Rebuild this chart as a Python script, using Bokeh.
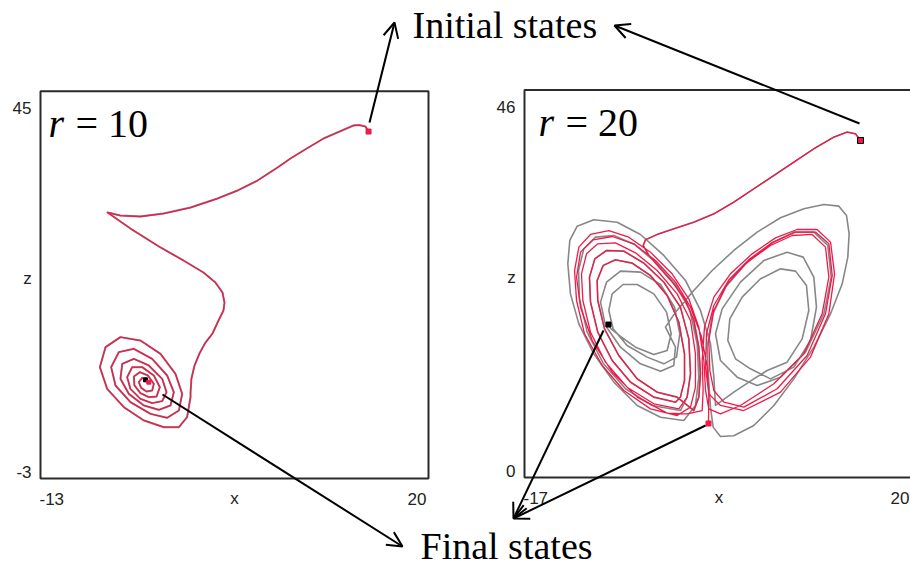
from bokeh.plotting import figure
from bokeh.models import Range1d, Arrow, OpenHead
from bokeh.core.properties import value
from bokeh.embed import file_html
from bokeh.resources import INLINE

# ---------------------------------------------------------------- data
# Lorenz trajectories projected on the x-z plane, (x, z) pairs.
# r = 10: the two runs stay together and spiral into the left fixed point.
r10_path = [
    (14.90, 40.00), (14.64, 40.62), (14.10, 40.80), (13.62, 40.75), (11.07, 39.14),
    (9.37, 37.65), (8.26, 36.66), (7.16, 35.54), (5.46, 33.93), (3.75, 32.69),
    (2.05, 31.70), (-0.24, 30.58), (-2.54, 29.84), (-4.50, 29.47), (-6.20, 29.59),
    (-7.30, 29.97), (-5.35, 27.98), (-2.79, 25.63), (-0.84, 24.02), (0.86, 22.53),
    (1.88, 21.29), (2.48, 20.05), (2.65, 18.81), (2.56, 17.82), (2.14, 16.58),
    (1.63, 14.97), (1.03, 13.85), (0.52, 12.49), (0.10, 11.00), (-0.16, 9.39),
    (-0.24, 7.66),
]
r10_spiral = [
    (-0.24, 7.08), (-0.53, 4.60), (-1.23, 3.36), (-2.51, 3.36), (-4.21, 4.19),
    (-5.91, 5.84), (-7.33, 8.11), (-7.95, 10.80), (-7.47, 13.28), (-6.20, 14.52),
    (-4.50, 14.10), (-2.79, 12.45), (-1.52, 9.97), (-0.95, 7.49),
    (-1.23, 5.43), (-2.23, 4.52), (-3.64, 5.01), (-5.35, 6.46), (-6.62, 8.53),
    (-6.99, 10.80), (-6.34, 12.66), (-5.06, 13.07), (-3.50, 11.83), (-2.23, 9.77),
    (-1.66, 7.70),
    (-1.94, 6.05), (-2.94, 5.51), (-4.21, 6.05), (-5.49, 7.49), (-6.20, 9.35),
    (-6.05, 11.21), (-5.06, 11.83), (-3.79, 11.01), (-2.65, 9.35), (-2.28, 7.70),
    (-2.65, 6.59), (-3.50, 6.34), (-4.50, 6.87), (-5.35, 8.11), (-5.63, 9.56),
    (-5.20, 10.80), (-4.35, 10.80), (-3.36, 9.77), (-2.85, 8.32),
    (-3.13, 7.16), (-3.79, 7.08), (-4.50, 7.58), (-5.01, 8.53), (-5.06, 9.64),
    (-4.55, 10.18), (-3.87, 9.77), (-3.36, 8.73),
    (-3.50, 7.91), (-3.99, 7.78), (-4.44, 8.24), (-4.64, 8.94), (-4.35, 9.48),
    (-3.93, 9.15),
]
r10_red_final = (-3.79, 8.94)
r10_gray_final = (-4.07, 9.23)

# r = 20: shared start, then the two runs separate.
r20_start = [
    (14.96, 40.01), (14.48, 40.80), (13.69, 41.00), (12.42, 40.40), (10.52, 39.02),
    (8.62, 37.44), (6.72, 35.85), (4.81, 34.27), (2.91, 32.69), (1.01, 31.30),
    (-0.89, 30.31), (-2.80, 29.52), (-4.38, 28.85), (-5.49, 28.22), (-5.71, 27.54),
    (-5.17, 26.36), (-4.06, 24.77), (-2.80, 22.99), (-1.69, 21.01), (-0.89, 18.64),
    (-0.42, 15.47), (-0.26, 12.31), (-0.42, 9.54), (-0.89, 7.95),
    (-2.48, 9.54), (-4.38, 10.13), (-6.28, 11.71), (-8.03, 14.48), (-9.39, 17.65),
    (-10.03, 21.01), (-10.09, 23.39), (-9.52, 25.17), (-8.35, 25.84), (-6.76, 25.45),
    (-5.02, 23.98), (-3.43, 21.61), (-2.32, 18.44), (-1.78, 14.68), (-1.78, 11.52),
    (-2.17, 9.54),
    (-2.64, 8.94), (-4.70, 9.54), (-6.92, 11.32), (-8.66, 13.89), (-10.03, 17.25),
    (-10.72, 20.82), (-10.82, 23.78), (-10.31, 25.96), (-9.20, 26.95), (-7.55, 26.87),
    (-5.65, 25.45), (-3.75, 23.19), (-2.17, 20.22), (-1.37, 16.46), (-1.21, 12.31),
    (-1.53, 9.54),
]
r20_red_left = [
    (-2.32, 8.15), (-4.70, 8.75), (-7.24, 10.72), (-9.30, 13.69), (-10.72, 17.25),
    (-11.45, 21.01), (-11.58, 24.18), (-11.10, 26.55), (-10.03, 27.74), (-8.35, 27.86),
    (-6.44, 26.67), (-4.38, 24.57), (-2.48, 21.80), (-1.21, 18.64), (-0.74, 14.68),
    (-0.74, 10.72), (-1.21, 8.35),
    (-2.48, 7.36), (-5.02, 8.15), (-7.55, 10.33), (-9.61, 13.30), (-11.29, 17.06),
    (-12.05, 21.01), (-12.24, 24.57), (-11.83, 27.35), (-10.72, 28.85), (-8.98, 29.32),
    (-7.08, 28.53), (-5.02, 26.75), (-2.96, 24.18), (-1.37, 21.21), (-0.42, 17.85),
    (0.06, 13.89), (0.22, 10.33), (0.53, 8.15), (1.64, 7.56),
]
r20_red_right = [
    (3.54, 8.55), (6.72, 11.12), (9.57, 14.68), (11.31, 19.43), (11.95, 23.78),
    (11.63, 27.35), (10.36, 28.85), (8.46, 28.73), (6.40, 27.54), (4.18, 25.56),
    (2.28, 22.99), (1.01, 19.83), (0.53, 16.26), (0.63, 12.70), (1.01, 10.33),
    (1.96, 8.94),
    (3.86, 8.35), (7.03, 10.53), (9.88, 14.48), (11.63, 19.43), (12.27, 23.98),
    (11.95, 27.74), (10.67, 29.13), (8.78, 29.13), (6.65, 27.94), (4.43, 25.96),
    (2.44, 23.47), (1.01, 20.42), (0.31, 17.06), (0.22, 13.10), (0.53, 9.93),
    (1.64, 8.55),
    (3.86, 7.95), (7.35, 10.13), (10.20, 14.29), (11.95, 19.43), (12.49, 24.18),
    (12.11, 27.94), (10.83, 29.44), (8.93, 29.44), (6.87, 28.45), (4.65, 26.55),
    (2.59, 24.18), (1.01, 21.41), (0.12, 17.85), (-0.10, 13.89), (-0.01, 10.33),
    (-0.10, 7.95), (-1.53, 7.56),
]
r20_red_last = [
    (-3.43, 7.64), (-6.28, 9.54), (-8.66, 12.50), (-10.56, 16.26), (-11.67, 20.22),
    (-12.05, 23.78), (-11.67, 26.75), (-10.47, 28.22), (-8.66, 28.61), (-6.60, 27.74),
    (-4.54, 25.76), (-2.64, 23.19), (-1.21, 20.22), (-0.20, 16.86), (0.37, 13.30),
    (0.53, 9.73), (0.50, 6.41),
]
r20_gray_left = [
    (-2.17, 7.95), (-4.86, 8.55), (-7.39, 10.53), (-9.52, 13.57), (-11.04, 17.25),
    (-11.77, 21.21), (-11.86, 24.57), (-11.36, 27.15), (-10.25, 28.53), (-8.50, 28.73),
    (-6.54, 27.66), (-4.54, 25.56), (-2.64, 22.91), (-1.27, 19.83), (-0.58, 15.87),
    (-0.42, 11.91), (-0.74, 8.55),
    (-1.85, 6.77), (-4.06, 7.16), (-6.28, 8.55), (-8.50, 11.32), (-10.41, 14.68),
    (-11.83, 18.24), (-12.63, 21.80), (-12.88, 25.37), (-12.69, 28.14), (-11.99, 29.84),
    (-10.41, 30.59), (-8.19, 30.31), (-5.97, 28.85), (-3.75, 26.36), (-1.69, 23.39),
    (-0.26, 19.83), (0.69, 15.87), (1.01, 11.91), (1.17, 8.55),
    (2.91, 10.13), (4.81, 11.71),
]
r20_gray_right = [
    (6.08, 12.70), (7.98, 13.69), (9.41, 16.46), (10.04, 19.83), (9.82, 22.79),
    (8.78, 24.50), (7.35, 24.77), (5.45, 23.59), (3.70, 21.41), (2.53, 18.84),
    (2.34, 16.26), (3.07, 14.09), (4.49, 12.90),
    (6.40, 11.71), (8.62, 13.10), (10.20, 16.26), (10.77, 20.22), (10.52, 23.78),
    (9.51, 26.16), (7.98, 26.75), (5.76, 25.76), (3.54, 23.19), (1.80, 20.02),
    (1.17, 17.06), (1.64, 13.89), (3.23, 11.91), (5.13, 10.92),
    (7.35, 11.91), (9.73, 14.88), (11.47, 19.43), (12.17, 23.78), (11.85, 27.54),
    (10.52, 29.13), (8.62, 29.13), (6.40, 27.74), (4.02, 25.37), (2.12, 22.60),
    (0.85, 19.23), (0.37, 15.47), (0.50, 11.91),
    (0.69, 8.35), (0.94, 5.98), (1.64, 4.87), (2.91, 4.95), (4.81, 6.17),
    (6.72, 8.55), (8.62, 11.71), (10.52, 15.47), (12.11, 19.43), (13.22, 22.99),
    (13.75, 26.16), (13.88, 28.93), (13.63, 31.10), (12.90, 32.21), (11.47, 32.41),
    (9.57, 31.90), (7.35, 30.83), (5.13, 29.13), (2.91, 26.95), (0.85, 24.57),
    (-1.05, 22.00), (-2.64, 19.63), (-3.59, 17.85),
]
r20_gray_last = [
    (-2.64, 15.47), (-2.80, 13.30), (-4.06, 12.62), (-5.97, 13.49), (-7.87, 15.47),
    (-9.30, 18.05), (-9.77, 20.82), (-9.20, 23.19), (-7.87, 24.50), (-5.97, 24.38),
    (-4.06, 22.91), (-2.73, 20.22), (-2.23, 17.06), (-2.54, 14.29), (-3.75, 13.49),
    (-5.33, 14.29), (-7.24, 15.67), (-8.57, 17.65), (-8.98, 19.83), (-8.66, 21.80),
    (-7.62, 22.91), (-6.28, 22.91), (-4.70, 21.80), (-3.49, 19.63), (-3.05, 17.06),
    (-3.43, 15.08), (-4.70, 14.60), (-6.44, 15.47), (-7.87, 16.74), (-8.76, 17.65),
    (-9.01, 18.16),
]

# axis extents shown as the corner labels
x_lim_10, z_lim_10 = (-13, 20), (-3, 45)
x_lim_20, z_lim_20 = (-17, 20), (0, 46)
r_values = ["10", "20"]
callouts = ["Initial states", "Final states"]

# ---------------------------------------------------------------- layout
W, H = 910, 567
BOX_10 = (40, 90.7, 428, 478)      # left, top, right, bottom (px)
BOX_20 = (524, 89.5, 913, 477)

RED = "#ee1a48"
GRAY = "#878787"
SERIF = value("Liberation Serif")
SANS = value("Liberation Sans")

p = figure(width=W, height=H, x_range=Range1d(0, W), y_range=Range1d(H, 0),
           output_backend="svg", toolbar_location=None,
           x_axis_type=None, y_axis_type=None, min_border=0)
p.outline_line_color = None
p.background_fill_color = "white"
p.border_fill_color = "white"


def panel_ranges(box, xlim, zlim):
    l, t, r, b = box
    kx = (r - l) / (xlim[1] - xlim[0])
    kz = (b - t) / (zlim[1] - zlim[0])
    xr = Range1d(xlim[0] - l / kx, xlim[1] + (W - r) / kx)
    zr = Range1d(zlim[0] - (H - b) / kz, zlim[1] + t / kz)
    return xr, zr


xr10, zr10 = panel_ranges(BOX_10, x_lim_10, z_lim_10)
xr20, zr20 = panel_ranges(BOX_20, x_lim_20, z_lim_20)
p.extra_x_ranges = {"x10": xr10, "x20": xr20}
p.extra_y_ranges = {"z10": zr10, "z20": zr20}


def path(pts, rx, rz, **kw):
    p.line([a for a, _ in pts], [b for _, b in pts], x_range_name=rx,
           y_range_name=rz, line_join="round", line_cap="round", **kw)


def dot(pt, rx, rz, color, size=5):
    p.scatter([pt[0]], [pt[1]], x_range_name=rx, y_range_name=rz, marker="square",
              size=size, fill_color=color, line_color=color)


def big_text(x, y, s, **kw):
    # serif call-out text; y is the baseline in page pixels
    p.text([x], [y - 13], text=[s], text_font=SERIF, text_baseline="alphabetic",
           text_color="black", **kw)


def frame(box, xlim, zlim, rx, rz, r_label, right_label_edge):
    l, t, r, b = box
    p.quad(left=[xlim[0]], right=[xlim[1]], bottom=[zlim[0]], top=[zlim[1]],
           x_range_name=rx, y_range_name=rz, fill_color=None,
           line_color="#2b2b2b", line_width=2)
    lab = dict(text_font=SANS, text_font_size="17px", text_color="#222222",
               text_baseline="middle")
    p.text([l - 9], [t + 17], text=[str(zlim[1])], text_align="right", **lab)
    p.text([l - 9], [b - 7], text=[str(zlim[0])], text_align="right", **lab)
    p.text([l - 13], [t + 187], text=["z"], text_align="center", **lab)
    p.text([l - 1], [b + 20], text=[str(xlim[0])], text_align="left", **lab)
    p.text([(l + r) / 2], [b + 20], text=["x"], text_align="center", **lab)
    p.text([right_label_edge], [b + 20], text=[str(xlim[1])], text_align="right", **lab)
    x0 = l + 8 if l < 100 else l + 14
    big_text(x0, t + 45, "r", text_font_style="italic", text_font_size="40px")
    big_text(x0 + 27, t + 45, "= " + r_label, text_font_size="40px")


frame(BOX_10, x_lim_10, z_lim_10, "x10", "z10", r_values[0], 426)
frame(BOX_20, x_lim_20, z_lim_20, "x20", "z20", r_values[1], 909)

# r = 10 trajectories (gray underneath, red on top)
path(r10_path + r10_spiral + [r10_gray_final], "x10", "z10", line_color=GRAY, line_width=2.0)
path(r10_path + r10_spiral + [r10_red_final], "x10", "z10", line_color=RED, line_width=1.3)
dot(r10_gray_final, "x10", "z10", "black", 4)
dot(r10_red_final, "x10", "z10", RED, 4)
dot(r10_path[0], "x10", "z10", RED, 5)

# r = 20 trajectories
path(r20_start + r20_gray_left + r20_gray_right + r20_gray_last, "x20", "z20",
     line_color=GRAY, line_width=1.6)
path(r20_start + r20_red_left + r20_red_right + r20_red_last, "x20", "z20",
     line_color=RED, line_width=1.3)
dot(r20_start[0], "x20", "z20", "black", 6)
dot(r20_start[0], "x20", "z20", RED, 4)
dot(r20_gray_last[-1], "x20", "z20", "black", 5)
dot(r20_red_last[-1], "x20", "z20", RED, 5)

# call-out texts and arrows
big_text(412, 37, callouts[0], text_font_size="38px")
big_text(420, 558, callouts[1], text_font_size="38px")

arrows = [
    ((369, 122), (394, 22)),
    ((859, 123), (614, 25)),
    ((162, 394), (402, 546)),
    ((603, 330), (513, 518)),
    ((705, 425), (513, 518)),
]
for (xs, ys), (xe, ye) in arrows:
    p.add_layout(Arrow(end=OpenHead(size=15, line_width=2, line_color="black"),
                       x_start=xs, y_start=ys, x_end=xe, y_end=ye,
                       line_width=2, line_color="black"))

open("out.html", "w").write(file_html(p, INLINE))
